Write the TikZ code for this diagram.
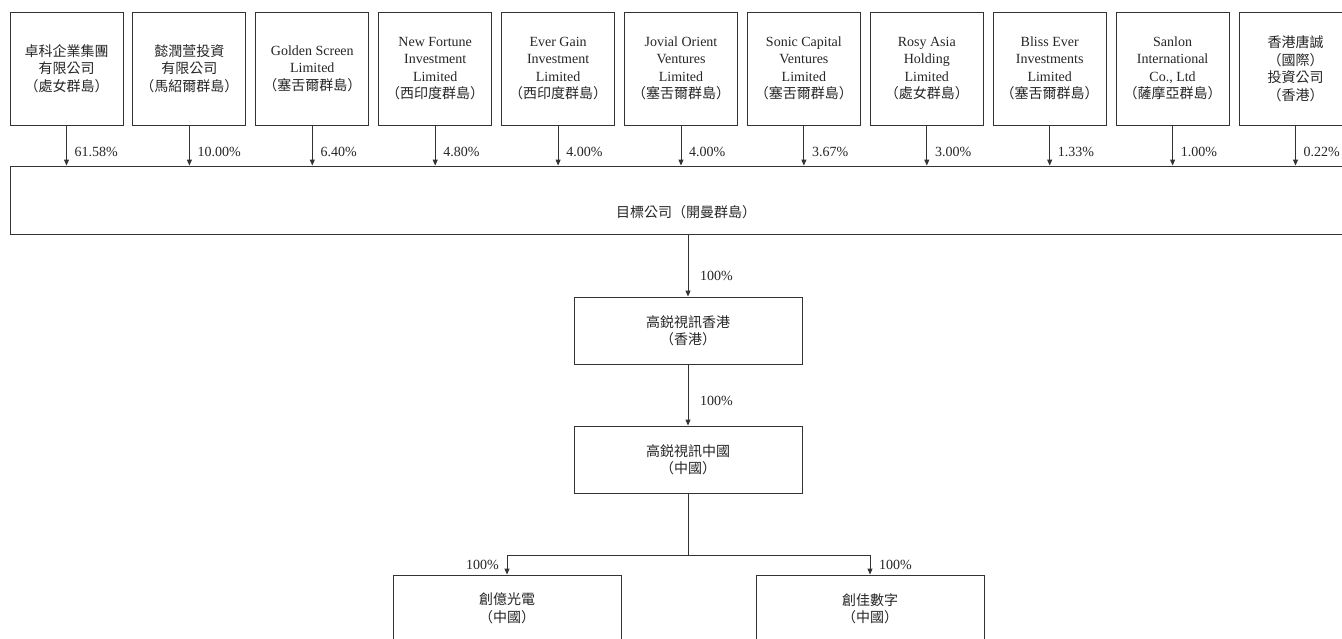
\documentclass[tikz,border=0pt]{standalone}
\usepackage{fontspec}
\setmainfont{Liberation Serif}
\newfontfamily\cjk{Noto Sans CJK TC}
\usetikzlibrary{arrows.meta}
\begin{document}
\begin{tikzpicture}[x=1pt,y=-1pt,
  txt/.style={font=\fontsize{14}{17.5}\selectfont, text=black!85},
  box/.style={txt, draw=black!80, line width=0.9pt, align=center, inner sep=0pt},
  topbox/.style={box, minimum width=113pt, minimum height=113pt},
  midbox/.style={box, minimum width=228pt, minimum height=67pt},
  arr/.style={draw=black!80, line width=0.9pt, -{Triangle[length=6pt,width=5pt]}},
  ln/.style={draw=black!80, line width=0.9pt},
  pct/.style={txt, inner sep=0pt}]
\useasboundingbox (0,0) rectangle (1342,638);
\fill[white] (0,0) rectangle (1342,638);
\clip (0,0) rectangle (1342,638);
% top shareholders
\node[topbox] (t1) at (66.5,68.5) {{\cjk 卓科企業集團}\\{\cjk 有限公司}\\{\cjk （處女群島）}};
\node[topbox] (t2) at (189.4,68.5) {{\cjk 懿潤萱投資}\\{\cjk 有限公司}\\{\cjk （馬紹爾群島）}};
\node[topbox] (t3) at (312.3,68.5) {Golden Screen\\Limited\\{\cjk （塞舌爾群島）}};
\node[topbox] (t4) at (435.2,68.5) {New Fortune\\Investment\\Limited\\{\cjk （西印度群島）}};
\node[topbox] (t5) at (558.1,68.5) {Ever Gain\\Investment\\Limited\\{\cjk （西印度群島）}};
\node[topbox] (t6) at (681.0,68.5) {Jovial Orient\\Ventures\\Limited\\{\cjk （塞舌爾群島）}};
\node[topbox] (t7) at (803.9,68.5) {Sonic Capital\\Ventures\\Limited\\{\cjk （塞舌爾群島）}};
\node[topbox] (t8) at (926.8,68.5) {Rosy Asia\\Holding\\Limited\\{\cjk （處女群島）}};
\node[topbox] (t9) at (1049.7,68.5) {Bliss Ever\\Investments\\Limited\\{\cjk （塞舌爾群島）}};
\node[topbox] (t10) at (1172.6,68.5) {Sanlon\\International\\Co., Ltd\\{\cjk （薩摩亞群島）}};
\node[topbox] (t11) at (1295.5,68.5) {{\cjk 香港唐誠}\\{\cjk （國際）}\\{\cjk 投資公司}\\{\cjk （香港）}};
% target company
\node[box, minimum width=1352pt, minimum height=68pt] (tgt) at (686,200) {};
\node[txt] (tgttxt) at (686,212) {\cjk 目標公司（開曼群島）};
% arrows from shareholders
\foreach \n in {1,...,11}{
  \draw[arr] (t\n.south) -- (t\n.south |- tgt.north);
}
\node[pct, anchor=west] (p1) at (74.5,152) {61.58\%};
\node[pct, anchor=west] (p2) at (197.4,152) {10.00\%};
\node[pct, anchor=west] (p3) at (320.3,152) {6.40\%};
\node[pct, anchor=west] (p4) at (443.2,152) {4.80\%};
\node[pct, anchor=west] (p5) at (566.1,152) {4.00\%};
\node[pct, anchor=west] (p6) at (689.0,152) {4.00\%};
\node[pct, anchor=west] (p7) at (811.9,152) {3.67\%};
\node[pct, anchor=west] (p8) at (934.8,152) {3.00\%};
\node[pct, anchor=west] (p9) at (1057.7,152) {1.33\%};
\node[pct, anchor=west] (p10) at (1180.6,152) {1.00\%};
\node[pct, anchor=west] (p11) at (1303.5,152) {0.22\%};
% subsidiaries chain
\node[midbox] (hk) at (688,330.5) {{\cjk 高鋭視訊香港}\\{\cjk （香港）}};
\node[midbox] (cn) at (688,459.5) {{\cjk 高鋭視訊中國}\\{\cjk （中國）}};
\draw[arr] (tgt.south -| hk.north) -- (hk.north);
\draw[arr] (hk.south) -- (cn.north);
\node[pct, anchor=west] (ph) at (700,276) {100\%};
\node[pct, anchor=west] (pc) at (700,401) {100\%};
% bottom subsidiaries
\node[box, minimum width=228pt, minimum height=67pt] (b1) at (507,608.5) {{\cjk 創億光電}\\{\cjk （中國）}};
\node[box, minimum width=228pt, minimum height=67pt] (b2) at (870,608.5) {{\cjk 創佳數字}\\{\cjk （中國）}};
\coordinate (split) at (688,555);
\draw[ln] (cn.south) -- (split);
\draw[arr] (split) -| (b1.north);
\draw[arr] (split) -| (b2.north);
\node[pct, anchor=east] (pb1) at (499,565) {100\%};
\node[pct, anchor=west] (pb2) at (879,565) {100\%};
\end{tikzpicture}
\end{document}
